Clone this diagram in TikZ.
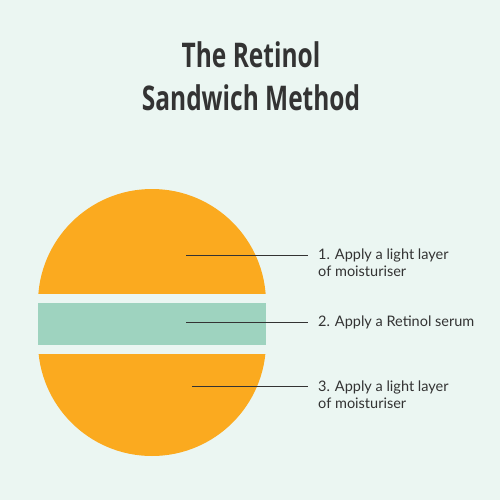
\documentclass[tikz,border=0pt]{standalone}
\usepackage{fontspec}
\setmainfont{Lato}
\newfontfamily\titlefont[FakeStretch=0.72]{Open Sans Bold}
\definecolor{bg}{HTML}{EBF6F2}
\definecolor{bun}{HTML}{FBAA1F}
\definecolor{serum}{HTML}{9ED3BF}
\definecolor{ink}{HTML}{333333}
\begin{document}
\begin{tikzpicture}[x=1pt,y=-1pt,
  leader/.style={draw=ink,line width=0.9pt},
  label/.style={anchor=west,inner sep=0pt,text=ink,font=\fontsize{14.5}{17}\selectfont,align=left},
  ttl/.style={inner sep=0pt,text=ink,font=\titlefont\fontsize{34}{43}\selectfont}]
\fill[bg] (0,0) rectangle (500,500);
\useasboundingbox (0,0) rectangle (500,500);
% title
\node[ttl] (t1) at (251,55) {The Retinol};
\node[ttl] (t2) at (251,98) {Sandwich Method};
% top bun
\begin{scope}
\clip (0,0) rectangle (500,293);
\fill[bun] (152,303) circle[radius=114];
\end{scope}
% serum band
\fill[serum] (38,302.5) rectangle (266,345);
% bottom bun
\begin{scope}
\clip (0,354) rectangle (500,500);
\fill[bun] (152,342) circle[radius=114];
\end{scope}
% leaders
\coordinate (a1) at (186,255);
\coordinate (a2) at (186,322.7);
\coordinate (a3) at (192,386.7);
\node[label] (l1) at (318,263) {1. Apply a light layer\\of moisturiser};
\node[label] (l2) at (318,322.7) {2. Apply a Retinol serum};
\node[label] (l3) at (318,394.5) {3. Apply a light layer\\of moisturiser};
\coordinate (b1) at (308,255);
\coordinate (b2) at (308,322.7);
\coordinate (b3) at (308,386.7);
\draw[leader] (a1) -- (b1);
\draw[leader] (a2) -- (b2);
\draw[leader] (a3) -- (b3);
\end{tikzpicture}
\end{document}
